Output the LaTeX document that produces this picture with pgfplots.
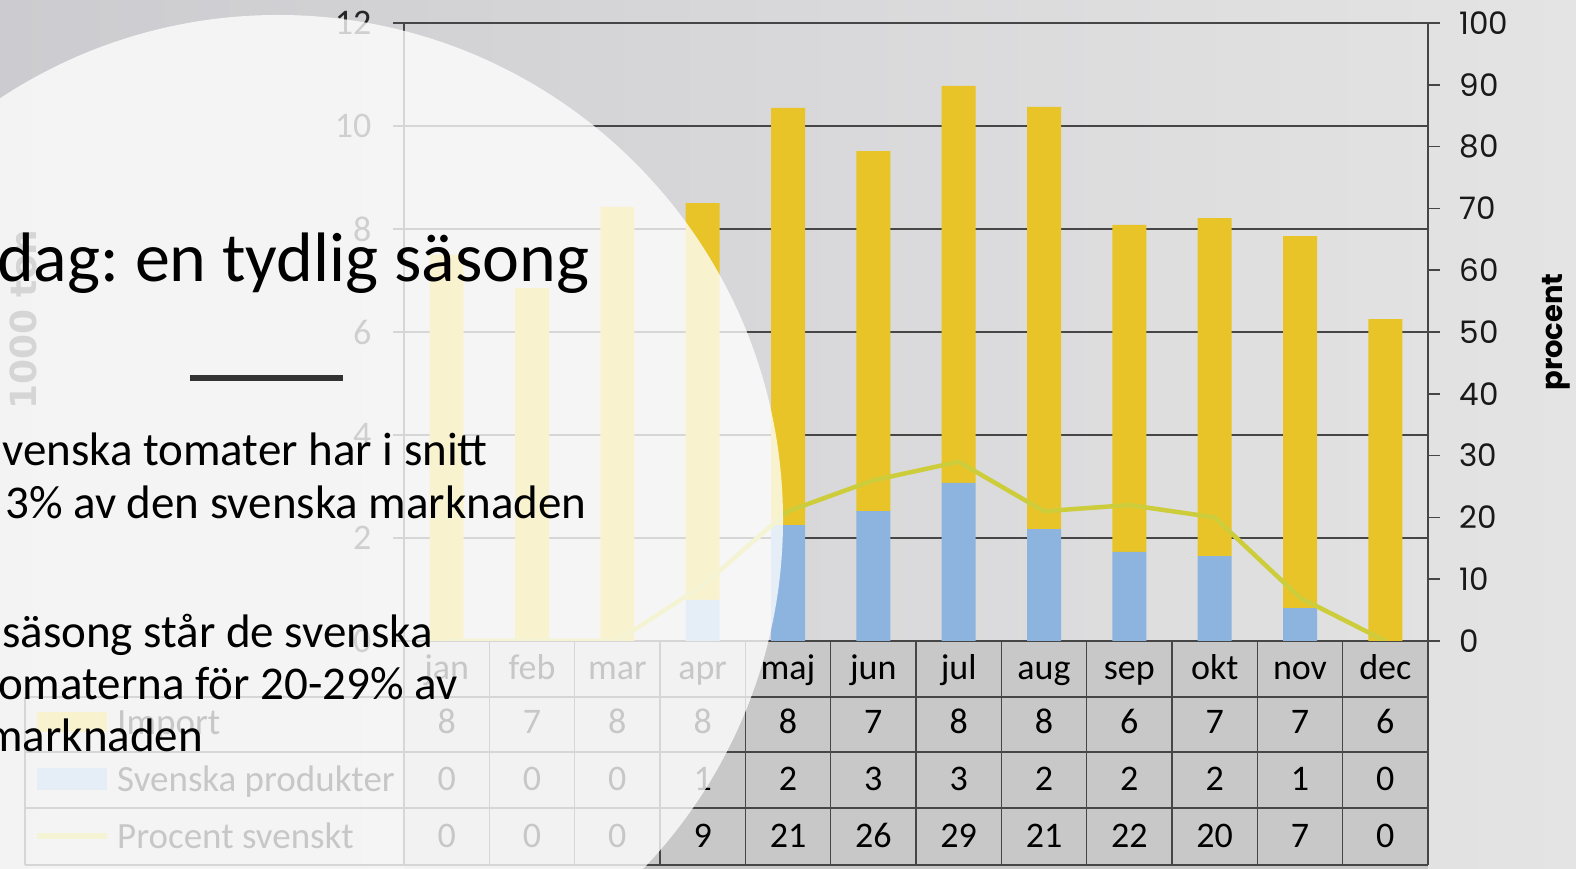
\documentclass[border=0pt]{standalone}
\usepackage{pgfplots}
\usepackage{pgfplotstable}
\pgfplotsset{compat=1.18}
\usepackage{fontspec}
\setmainfont{Carlito}
\newfontfamily\popp{Poppins}
\newfontfamily\dejavu{DejaVu Sans}
\definecolor{yel}{RGB}{232,196,40}
\definecolor{blu}{RGB}{140,180,222}
\definecolor{linec}{RGB}{205,205,60}
\definecolor{gridc}{RGB}{70,70,70}
\definecolor{bgL}{RGB}{204,204,208}
\definecolor{bgR}{RGB}{228,228,228}
\definecolor{tabbg}{RGB}{200,200,200}
\definecolor{rulec}{RGB}{50,50,50}

\pgfplotstableread{
x blue imp pct
0  0    7.50 0
1  0    6.85 0
2  0    8.43 0
3  0.80 7.70 9
4  2.25 8.10 21
5  2.52 6.99 26
6  3.07 7.71 29
7  2.17 8.20 21
8  1.73 6.35 22
9  1.65 6.56 20
10 0.64 7.22 7
11 0    6.25 0
}\data

\begin{document}
\frenchspacing
\begin{tikzpicture}[x=1pt,y=1pt]
\useasboundingbox (0,0) rectangle (1576,869);
\begin{scope}
\clip (0,0) rectangle (1576,869);
\shade[left color=bgL, right color=bgR] (0,0) rectangle (1576,869);
\fill[tabbg] (404,0) rectangle (1428,228);

\begin{axis}[
  at={(404pt,228pt)}, anchor=south west, scale only axis,
  width=1024pt, height=618pt,
  xmin=-0.5, xmax=11.5, ymin=0, ymax=12,
  enlargelimits=false,
  ybar stacked, bar width=34pt,
  xtick=\empty, ytick={0,2,...,12},
  ymajorgrids, grid style={line width=1.5pt, color=gridc},
  axis y line*=left, axis x line*=bottom,
  axis line style={line width=1.5pt, color=gridc, -},
  tick align=outside, major tick length=11pt,
  tick style={line width=1.5pt, color=gridc},
  /pgf/number format/assume math mode=true,
  yticklabel style={font=\fontsize{36}{36}\selectfont, text=black!85, xshift=-18pt},
  ylabel={1000 ton},
  ylabel style={font=\dejavu\bfseries\fontsize{36}{36}\selectfont, text=black!75,
    at={(axis description cs:-0.372,0.52)}, anchor=center},
]
\addplot[fill=blu, draw=none] table[x=x,y=blue]{\data};
\addplot[fill=yel, draw=none] table[x=x,y=imp]{\data};
\end{axis}

\begin{axis}[
  at={(404pt,228pt)}, anchor=south west, scale only axis,
  width=1024pt, height=618pt,
  xmin=-0.5, xmax=11.5, ymin=0, ymax=100,
  enlargelimits=false,
  axis y line*=right, axis x line=none,
  axis line style={line width=1.5pt, color=gridc, -},
  ytick={0,10,...,100},
  tick align=outside, major tick length=12pt,
  tick style={line width=1.5pt, color=gridc},
  /pgf/number format/assume math mode=true,
  yticklabel style={font=\popp\fontsize{31}{31}\selectfont, text=black!90, xshift=16pt},
  ylabel={procent},
  ylabel style={font=\popp\bfseries\fontsize{29}{29}\selectfont,
    at={(axis description cs:1.125,0.5)}, anchor=center},
]
\addplot[linec, line width=4.5pt, line join=round] table[x=x,y=pct]{\data};
\end{axis}

% data table below the chart
\begin{scope}[line width=1.5pt, draw=gridc]
\foreach \yy in {172,117,61,4} \draw[gridc] (25,\yy) -- (1428,\yy);
\foreach \k in {0,...,12} \draw[gridc] ({404+\k*85.333},228) -- ({404+\k*85.333},4);
\draw[gridc] (25,172) -- (25,4);
\end{scope}
\begin{scope}[font=\fontsize{36}{36}\selectfont, every node/.style={anchor=base, inner sep=0}]
\foreach \m [count=\i from 0] in {jan,feb,mar,apr,maj,jun,jul,aug,sep,okt,nov,dec}
  \node at ({404+(\i+0.5)*85.333},189) {\m};
\foreach \v [count=\i from 0] in {8,7,8,8,8,7,8,8,6,7,7,6}
  \node at ({404+(\i+0.5)*85.333},135) {\v};
\foreach \v [count=\i from 0] in {0,0,0,1,2,3,3,2,2,2,1,0}
  \node at ({404+(\i+0.5)*85.333},78) {\v};
\foreach \v [count=\i from 0] in {0,0,0,9,21,26,29,21,22,20,7,0}
  \node at ({404+(\i+0.5)*85.333},21) {\v};
\end{scope}
\fill[yel] (37,137) rectangle (107,157);
\fill[blu] (37,79) rectangle (107,101);
\draw[linec, line width=6pt] (37,33) -- (107,33);
\begin{scope}[every node/.style={anchor=base west, inner sep=0, font=\fontsize{37}{37}\selectfont}]
\node at (117,134) {Import};
\node at (117,77) {Svenska produkter};
\node at (117,20) {Procent svenskt};
\end{scope}

% white circle overlay
\fill[white, opacity=0.78] (278,349) circle (505);

% slide text
\node[anchor=base west, inner sep=0, font=\fontsize{70}{70}\selectfont] at (-3,587) {dag: en tydlig säsong};
\draw[rulec, line width=6pt] (190,491) -- (343,491);
\begin{scope}[every node/.style={anchor=base west, inner sep=0, font=\fontsize{47}{47}\selectfont}]
\node at (2,403) {venska tomater har i snitt};
\node at (5,350) {3\% av den svenska marknaden};
\node at (2,221) {säsong står de svenska};
\node at (-2,169) {omaterna för 20-29\% av};
\node at (-15,117) {marknaden};
\end{scope}
\end{scope}
\end{tikzpicture}
\end{document}
